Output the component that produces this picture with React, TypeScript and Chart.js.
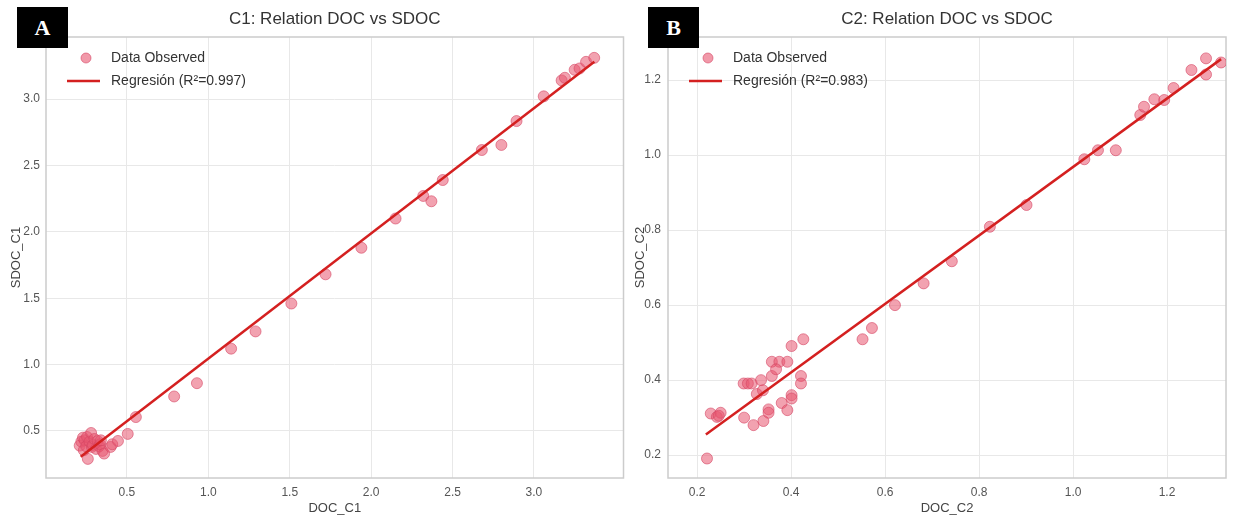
import React, { useEffect, useRef } from "react";
import { Chart, registerables } from "chart.js";

Chart.register(...registerables);

// ---------- Panel A: C1 ----------
const c1DocX = [
  0.21, 0.22, 0.23, 0.24, 0.235, 0.25, 0.255, 0.26, 0.27, 0.28, 0.285, 0.29, 0.3, 0.31, 0.32, 0.33, 0.335, 0.34, 0.35, 0.36,
  0.4, 0.41, 0.445, 0.505, 0.555, 0.79, 0.93, 1.14, 1.29, 1.51, 1.72, 1.94, 2.15, 2.32, 2.37, 2.44, 2.68, 2.8, 2.893,
  3.06, 3.17, 3.19, 3.25, 3.28, 3.32, 3.37,
];
const c1SdocY = [
  0.39, 0.42, 0.45, 0.43, 0.355, 0.385, 0.455, 0.29, 0.42, 0.485, 0.38, 0.395, 0.44, 0.365, 0.425, 0.385, 0.4, 0.43, 0.35, 0.33,
  0.38, 0.4, 0.425, 0.478, 0.605, 0.76, 0.86, 1.12, 1.25, 1.46, 1.68, 1.88, 2.1, 2.27, 2.23, 2.39, 2.616, 2.654, 2.834,
  3.02, 3.14, 3.16, 3.22, 3.23, 3.28, 3.31,
];
const c1RegX = [0.216, 3.371];
const c1RegY = [0.306, 3.281];
const c1XTicks = [0.5, 1.0, 1.5, 2.0, 2.5, 3.0];
const c1YTicks = [0.5, 1.0, 1.5, 2.0, 2.5, 3.0];
const c1R2 = "0.997";

// ---------- Panel B: C2 ----------
const c2DocX = [
  0.221, 0.229, 0.242, 0.25, 0.246, 0.3, 0.32, 0.341, 0.352, 0.352, 0.299, 0.308, 0.316, 0.336, 0.327, 0.34, 0.359, 0.359,
  0.375, 0.368, 0.392, 0.38, 0.392, 0.401, 0.401, 0.401, 0.426, 0.421, 0.421, 0.552, 0.572, 0.621, 0.682, 0.742, 0.823,
  0.901, 1.024, 1.053, 1.091, 1.143, 1.151, 1.173, 1.194, 1.214, 1.252, 1.283, 1.283, 1.315,
];
const c2SdocY = [
  0.191, 0.311, 0.302, 0.313, 0.305, 0.3, 0.28, 0.291, 0.322, 0.313, 0.391, 0.391, 0.391, 0.4, 0.363, 0.373, 0.411, 0.449,
  0.449, 0.429, 0.449, 0.339, 0.32, 0.36, 0.351, 0.491, 0.509, 0.411, 0.391, 0.509, 0.539, 0.6, 0.658, 0.717, 0.809,
  0.867, 0.989, 1.013, 1.013, 1.107, 1.129, 1.149, 1.147, 1.179, 1.227, 1.258, 1.215, 1.247,
];
const c2RegX = [0.2186, 1.315];
const c2RegY = [0.255, 1.256];
const c2XTicks = [0.2, 0.4, 0.6, 0.8, 1.0, 1.2];
const c2YTicks = [0.2, 0.4, 0.6, 0.8, 1.0, 1.2];
const c2R2 = "0.983";

const FONT = "'Liberation Sans', Arial, Helvetica, sans-serif";

type PanelProps = {
  left: number;
  width: number;
  title: string;
  xLabel: string;
  yLabel: string;
  xs: number[];
  ys: number[];
  regX: number[];
  regY: number[];
  r2: string;
  xTicks: number[];
  yTicks: number[];
  xMin: number;
  xMax: number;
  yMin: number;
  yMax: number;
  yAxisWidth: number;
  padRight: number;
  yTitlePad: number;
  yTickPad: number;
};

function Panel(p: PanelProps) {
  const ref = useRef<HTMLCanvasElement>(null);
  useEffect(() => {
    const canvas = ref.current;
    if (!canvas) return;
    const decor = {
      id: "decor",
      beforeDatasetsDraw(chart: any) {
        const { ctx, chartArea: a } = chart;
        ctx.save();
        ctx.strokeStyle = "#cccccc";
        ctx.lineWidth = 1.5;
        ctx.strokeRect(a.left, a.top, a.right - a.left, a.bottom - a.top);
        ctx.restore();
      },
      afterDraw(chart: any) {
        const { ctx, chartArea: a } = chart;
        ctx.save();
        // title
        ctx.fillStyle = "#333333";
        ctx.font = `17px ${FONT}`;
        ctx.textAlign = "center";
        ctx.textBaseline = "middle";
        ctx.fillText(p.title, (a.left + a.right) / 2, 19);
        // legend
        const y1 = a.top + 21;
        const y2 = a.top + 44;
        ctx.beginPath();
        ctx.arc(a.left + 40, y1, 5, 0, Math.PI * 2);
        ctx.fillStyle = "rgba(232,85,112,0.6)";
        ctx.fill();
        ctx.strokeStyle = "rgba(214,70,100,0.6)";
        ctx.lineWidth = 1;
        ctx.stroke();
        ctx.beginPath();
        ctx.moveTo(a.left + 21, y2);
        ctx.lineTo(a.left + 54, y2);
        ctx.strokeStyle = "#d42020";
        ctx.lineWidth = 2.5;
        ctx.stroke();
        ctx.fillStyle = "#333333";
        ctx.font = `14px ${FONT}`;
        ctx.textAlign = "left";
        ctx.fillText("Data Observed", a.left + 65, y1);
        ctx.fillText(`Regresión (R²=${p.r2})`, a.left + 65, y2);
        ctx.restore();
      },
    };
    const tickFont = { family: FONT, size: 12 };
    const titleFont = { family: FONT, size: 13 };
    const chart = new Chart(canvas, {
      type: "scatter",
      data: {
        datasets: [
          {
            type: "line",
            label: `Regresión (R²=${p.r2})`,
            data: p.regX.map((x, i) => ({ x, y: p.regY[i] })),
            borderColor: "#d42020",
            borderWidth: 2.5,
            pointRadius: 0,
            fill: false,
            order: 0,
          } as any,
          {
            type: "scatter",
            label: "Data Observed",
            data: p.xs.map((x, i) => ({ x, y: p.ys[i] })),
            backgroundColor: "rgba(232,85,112,0.55)",
            borderColor: "rgba(214,70,100,0.6)",
            borderWidth: 1,
            pointRadius: 5.5,
            order: 1,
          },
        ],
      },
      options: {
        responsive: false,
        animation: false,
        events: [],
        layout: { padding: { top: 37, right: p.padRight, left: 0, bottom: 0 } },
        plugins: { legend: { display: false }, title: { display: false }, tooltip: { enabled: false } },
        scales: {
          x: {
            type: "linear",
            min: p.xMin,
            max: p.xMax,
            afterBuildTicks: (s: any) => {
              s.ticks = p.xTicks.map((v) => ({ value: v }));
            },
            afterFit: (s: any) => {
              s.height = 40;
            },
            ticks: {
              callback: (v: any) => Number(v).toFixed(1),
              font: tickFont,
              color: "#555555",
              padding: 7,
              maxRotation: 0,
            },
            grid: { color: "#e8e8e8", lineWidth: 1, drawTicks: false },
            border: { display: false },
            title: { display: true, text: p.xLabel, font: titleFont, color: "#444444", padding: { top: 2, bottom: 2 } },
          },
          y: {
            type: "linear",
            min: p.yMin,
            max: p.yMax,
            afterBuildTicks: (s: any) => {
              s.ticks = p.yTicks.map((v) => ({ value: v }));
            },
            afterFit: (s: any) => {
              s.width = p.yAxisWidth;
            },
            ticks: {
              callback: (v: any) => Number(v).toFixed(1),
              font: tickFont,
              color: "#555555",
              padding: p.yTickPad,
            },
            grid: { color: "#e8e8e8", lineWidth: 1, drawTicks: false },
            border: { display: false },
            title: {
              display: true,
              text: p.yLabel,
              font: titleFont,
              color: "#444444",
              padding: { top: p.yTitlePad, bottom: p.yTitlePad },
            },
          },
        },
      },
      plugins: [decor],
    });
    return () => chart.destroy();
  }, []);
  return (
    <canvas
      ref={ref}
      width={p.width}
      height={518}
      style={{ position: "absolute", left: p.left, top: 0, width: p.width, height: 518, display: "block" }}
    />
  );
}

function Tag({ left, text }: { left: number; text: string }) {
  return (
    <div
      style={{
        position: "absolute",
        left,
        top: 7,
        width: 51,
        height: 41,
        background: "#000",
        color: "#fff",
        fontFamily: "'Liberation Serif', 'Times New Roman', serif",
        fontWeight: "bold",
        fontSize: 22,
        display: "flex",
        alignItems: "center",
        justifyContent: "center",
        zIndex: 2,
      }}
    >
      {text}
    </div>
  );
}

export default function App() {
  return (
    <div style={{ position: "absolute", left: 0, top: 0, width: 1251, height: 518, background: "#fff", overflow: "hidden" }}>
      <Panel
        left={0}
        width={630}
        title="C1: Relation DOC vs SDOC"
        xLabel="DOC_C1"
        yLabel="SDOC_C1"
        xs={c1DocX}
        ys={c1SdocY}
        regX={c1RegX}
        regY={c1RegY}
        r2={c1R2}
        xTicks={c1XTicks}
        yTicks={c1YTicks}
        xMin={0.003}
        xMax={3.55}
        yMin={0.146}
        yMax={3.467}
        yAxisWidth={46}
        padRight={6}
        yTitlePad={9}
        yTickPad={6}
      />
      <Panel
        left={630}
        width={621}
        title="C2: Relation DOC vs SDOC"
        xLabel="DOC_C2"
        yLabel="SDOC_C2"
        xs={c2DocX}
        ys={c2SdocY}
        regX={c2RegX}
        regY={c2RegY}
        r2={c2R2}
        xTicks={c2XTicks}
        yTicks={c2YTicks}
        xMin={0.138}
        xMax={1.3255}
        yMin={0.139}
        yMax={1.315}
        yAxisWidth={38}
        padRight={25}
        yTitlePad={3}
        yTickPad={7}
      />
      <Tag left={17} text="A" />
      <Tag left={648} text="B" />
    </div>
  );
}
